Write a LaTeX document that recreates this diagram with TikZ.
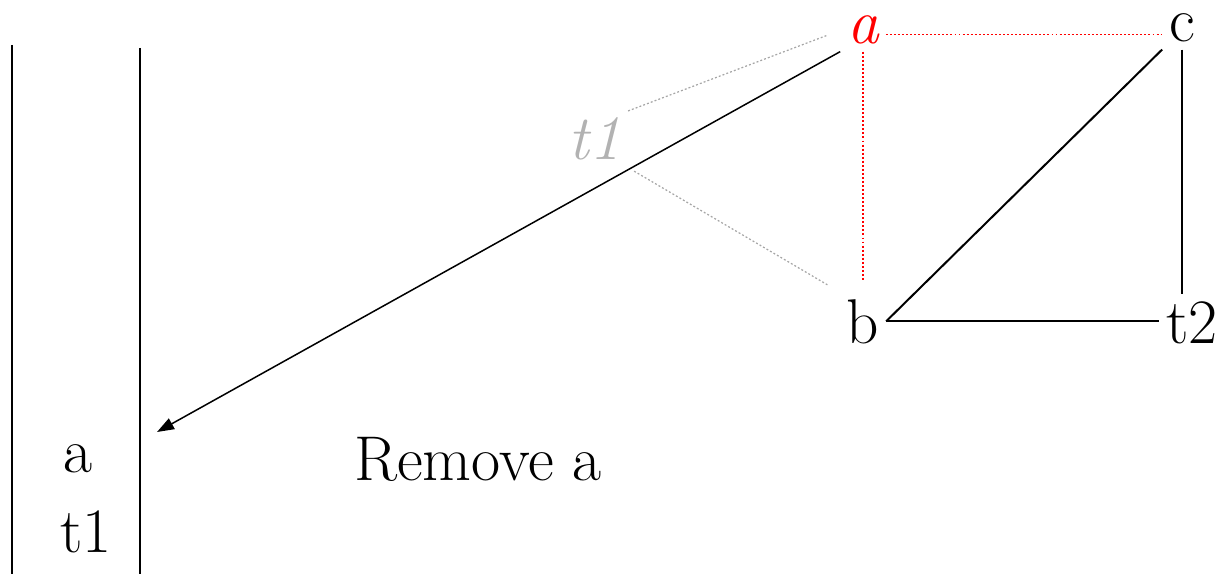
\documentclass[tikz,border=0pt]{standalone}
\usetikzlibrary{calc,arrows.meta}
\begin{document}
\begin{tikzpicture}[
    x=0.02cm, y=-0.02cm,
    line width=0.04cm,
    every node/.style={font=\fontsize{36}{43}\selectfont, inner sep=0.12cm, anchor=base},
    reddot/.style={red, line width=0.8pt, dash pattern=on 1.1pt off 1.2pt},
    graydot/.style={black!35, line width=0.7pt, dash pattern=on 1.1pt off 1.2pt}
  ]
  \useasboundingbox (0,0) rectangle (1219,574);

  % スタック（左の二本線）
  \draw[black] (12,45) -- (12,574);
  \draw[black] (140,48) -- (140,574);
  \node (sa) at (78,472) {a};
  \node (st) at (86,552) {t1};
  \coordinate (push) at (157,432);

  \node (msg) at (478,480) {Remove a};

  % グラフの頂点
  \node[red, font=\fontsize{36}{43}\selectfont\itshape] (ra) at (863,44) {a};
  \node (c) at (1182,42) {c};
  \node[black!30, font=\fontsize{36}{43}\selectfont\itshape] (t1) at (595,160) {t1};
  \node (b) at (863,343) {b};
  \node (t2) at (1192,343) {t2};

  % 取り除く辺（点線）
  \draw[reddot] ($(ra.east)+(0,4)$) -- ($(ra.east -| c.west)+(0,4)$);
  \draw[reddot, shorten >=6pt] (ra.south) -- (ra.south |- b.north);
  \draw[graydot, shorten >=8pt] (t1.north east) -- (ra.west);
  \draw[graydot, shorten <=4pt, shorten >=8pt] (t1.south east) -- (b.north west);

  % 残る辺
  \draw[black] (c.south west) -- (b.east);
  \draw[black] (c.south) -- (c.south |- t2.north);
  \draw[black] (b.east) -- (b.east -| t2.west);

  % スタックへ積む
  \draw[black, line width=0.03cm, -{Triangle[length=0.34cm, width=0.24cm]}] (ra.south west) -- (push);
\end{tikzpicture}
\end{document}
